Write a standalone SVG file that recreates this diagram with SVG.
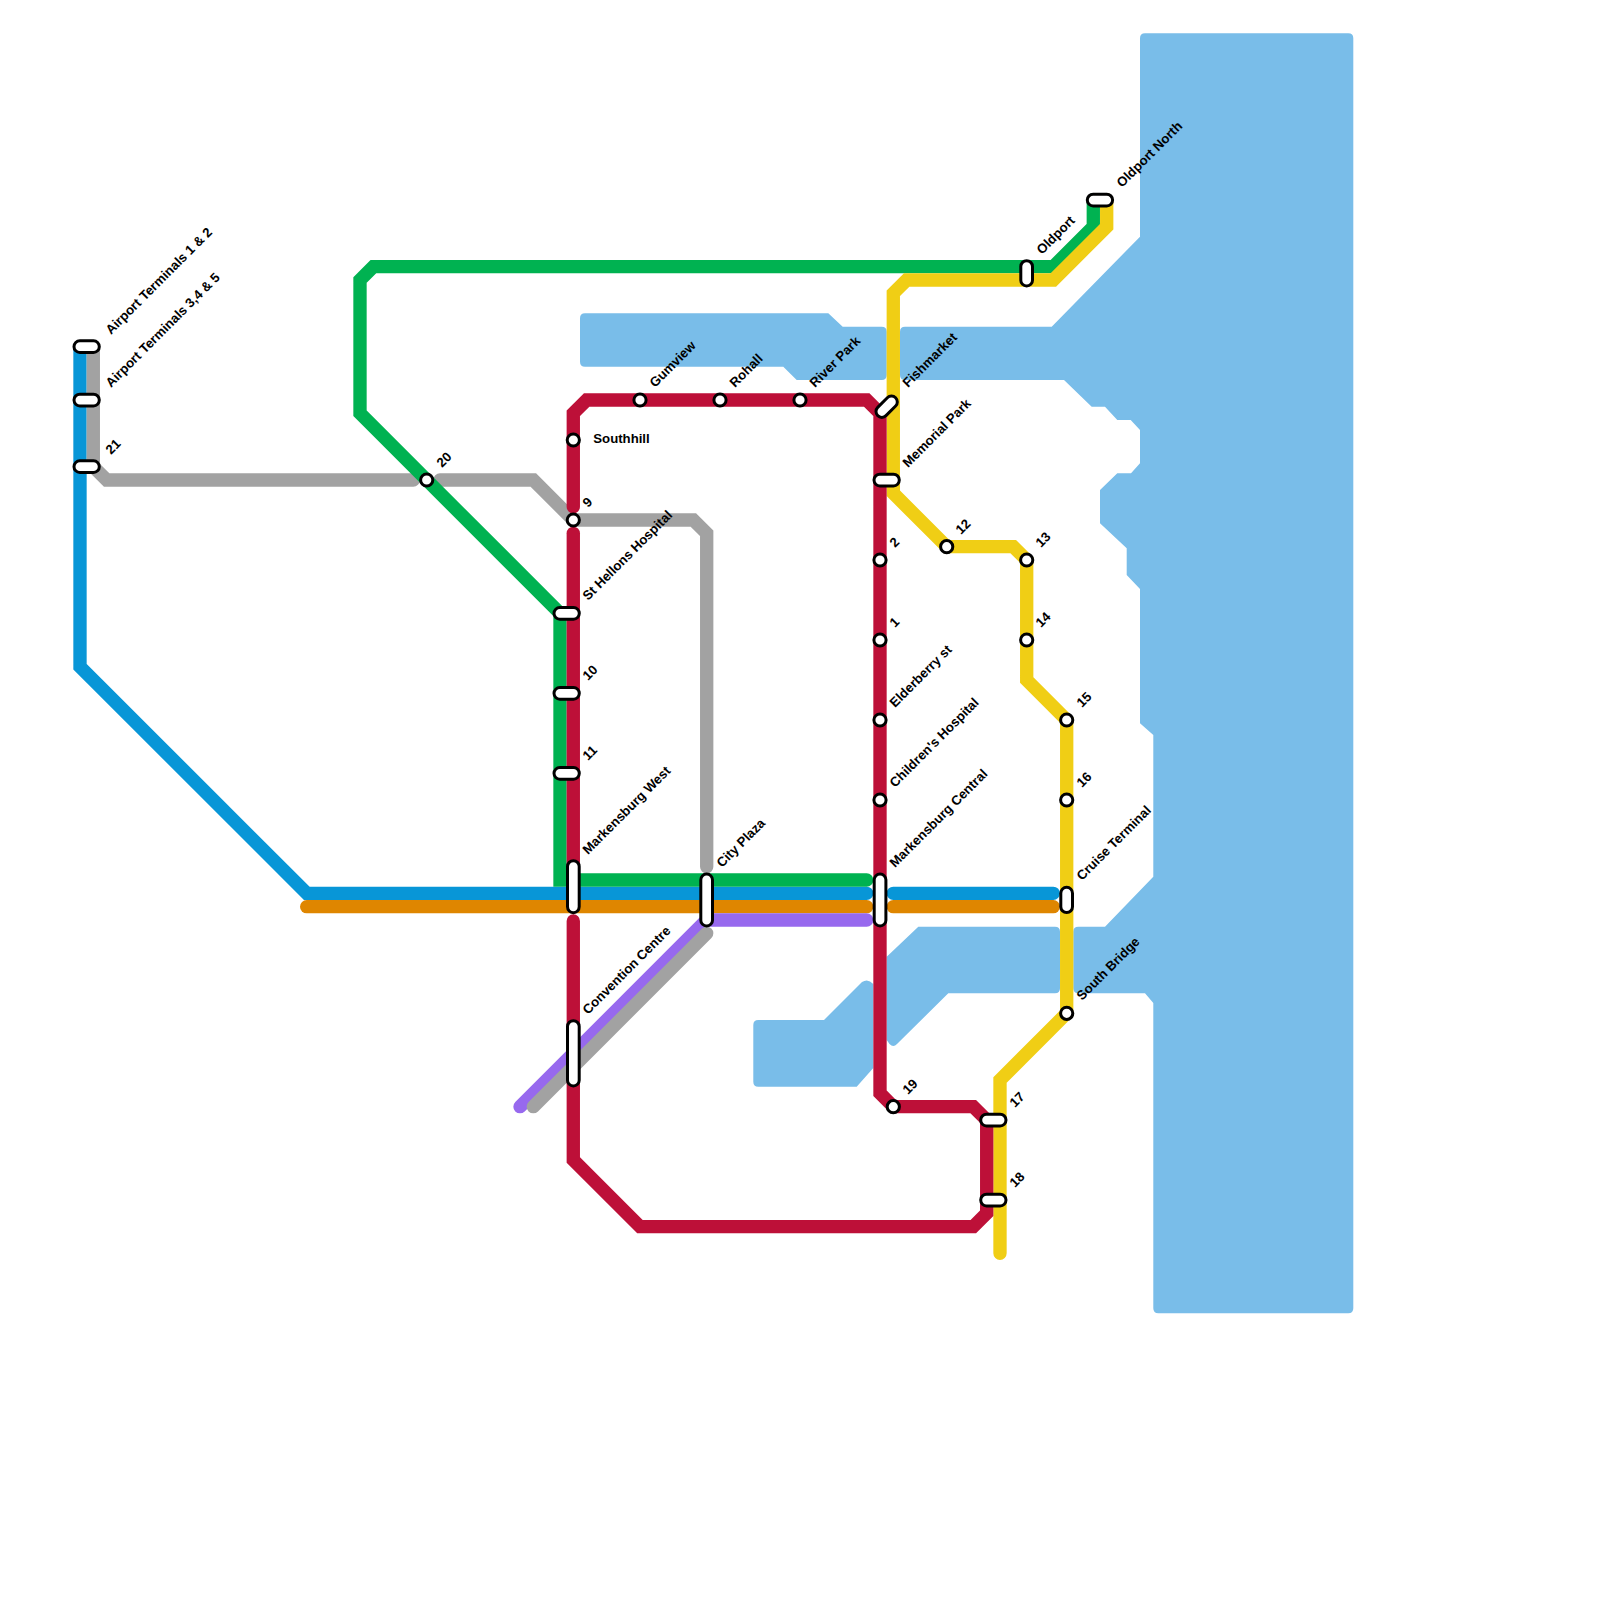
<svg xmlns="http://www.w3.org/2000/svg" width="1600" height="1600" viewBox="0 0 1600 1600">
<style>
.w{fill:#79bde9}
.l{fill:none;stroke-width:13.33;stroke-linecap:round;stroke-linejoin:miter}
.s{fill:#fff;stroke:#000;stroke-width:3}
text{font-family:"Liberation Sans",Arial,sans-serif;font-size:13.2px;font-weight:700;fill:#000}
</style>
<rect width="1600" height="1600" fill="#fff"/>
<g id="water">
<path class="w" d="M585 313.300H828.300L842.700 326.700H881.700Q886.700 326.700 886.700 331.700V375Q886.700 380 881.700 380H796.700L783.300 366.700H585Q580 366.700 580 361.700V318.300Q580 313.300 585 313.300Z"/>
<path class="w" d="M905 326.700H1051.700L1140 236.700V38.300Q1140 33.300 1145 33.300H1348.300Q1353.300 33.300 1353.300 38.300V1308.300Q1353.300 1313.300 1348.300 1313.300H1158.300Q1153.300 1313.300 1153.300 1308.300V1003L1145 993.300H1078.300Q1073.300 993.300 1073.300 988.300V931.700Q1073.300 926.700 1078.300 926.700H1105L1153.300 876.700V735L1140 723.300V589L1126.700 575V548.300L1100 523.300V490L1117.300 473.300H1131L1140 463.300V430L1130.700 420H1117.300L1105 406.700H1091.700L1064 380H905Q900 380 900 375V331.700Q900 326.700 905 326.700Z"/>
<path class="w" d="M758.300 1020H824L862 982Q868 978 873.300 984V1068L856.700 1086.700H758.300Q753.300 1086.700 753.300 1081.700V1025Q753.300 1020 758.300 1020Z"/>
<path class="w" d="M886.700 956.700L918.300 926.700H1055Q1060 926.700 1060 931.700V988.300Q1060 993.300 1055 993.300H948.300L897 1044Q893.300 1048 889.500 1044L886.700 1040Z"/>
</g>
<g id="connectors">
<path class="l" stroke="#0896d7" d="M80 346.700V666.700L306.700 893.300H866.700"/>
<path class="l" stroke="#0896d7" d="M893.300 893.300H1053.300"/>
<path class="l" stroke="#df8600" d="M306.700 906.700H866.700"/>
<path class="l" stroke="#df8600" d="M893.300 906.700H1053.300"/>
<path class="l" stroke="#a2a2a2" d="M93.300 346.700V466.700L106.700 480H413.300"/>
<path class="l" stroke="#a2a2a2" d="M440 480H533.300L573.300 520H693.300L706.700 533.300V866.700"/>
<path class="l" stroke="#00b251" d="M1093.300 200V226.700L1053.300 266.700H373.300L360 280V413.300L560 613.300V880H866.700"/>
<path class="l" stroke="#f0ce15" d="M1106.700 200V226.700L1053.300 280H906.700L893.300 293.300V493.300L946.700 546.700H1013.300L1026.700 560V680L1066.700 720V1013.300L1000 1080V1253.300"/>
<path class="l" stroke="#9769ee" d="M866.700 920H706.700L520 1106.700"/>
<path class="l" stroke="#a2a2a2" d="M706.700 933.300L533.300 1106.700"/>
<path class="l" stroke="#bd1038" d="M573.300 506.700V413.300L586.700 400H866.700L880 413.300V1093.300L893.300 1106.700H973.300L986.700 1120V1213.300L973.300 1226.700H640L573.300 1160V921"/>
<path class="l" stroke="#bd1038" d="M573.300 533.300V886.700"/>
</g>
<g id="n1"><rect class="s" x="74" y="340.800" width="25.300" height="11.700" rx="5.850"/><text transform="translate(111 335) rotate(-45)">Airport Terminals 1 &amp; 2</text></g>
<g id="n2"><rect class="s" x="74" y="394.200" width="25.300" height="11.700" rx="5.850"/><text transform="translate(111 388) rotate(-45)">Airport Terminals 3,4 &amp; 5</text></g>
<g id="n21"><rect class="s" x="74" y="460.800" width="25.300" height="11.700" rx="5.850"/><text transform="translate(111 455) rotate(-45)">21</text></g>
<g id="n20"><circle class="s" cx="426.700" cy="480" r="6.100"/><text transform="translate(442 468) rotate(-45)">20</text></g>
<g id="n9"><circle class="s" cx="573.300" cy="520" r="6.100"/><text transform="translate(588 508) rotate(-45)">9</text></g>
<g id="southhill"><circle class="s" cx="573.300" cy="440" r="6.100"/><text x="593.300" y="443">Southhill</text></g>
<g id="gumview"><circle class="s" cx="640" cy="400" r="6.100"/><text transform="translate(655 388) rotate(-45)">Gumview</text></g>
<g id="rohall"><circle class="s" cx="720" cy="400" r="6.100"/><text transform="translate(735 388) rotate(-45)">Rohall</text></g>
<g id="riverpark"><circle class="s" cx="800" cy="400" r="6.100"/><text transform="translate(815 388) rotate(-45)">River Park</text></g>
<g id="fishmarket"><rect class="s" x="-12.700" y="-5.850" width="25.300" height="11.700" rx="5.850" transform="translate(886.700 406.700) rotate(-45)"/><text transform="translate(908 388) rotate(-45)">Fishmarket</text></g>
<g id="memorial"><rect class="s" x="874" y="474.200" width="25.300" height="11.700" rx="5.850"/><text transform="translate(908 468) rotate(-45)">Memorial Park</text></g>
<g id="st2"><circle class="s" cx="880" cy="560" r="6.100"/><text transform="translate(895 548) rotate(-45)">2</text></g>
<g id="st1"><circle class="s" cx="880" cy="640" r="6.100"/><text transform="translate(895 628) rotate(-45)">1</text></g>
<g id="elder"><circle class="s" cx="880" cy="720" r="6.100"/><text transform="translate(895 708) rotate(-45)">Elderberry st</text></g>
<g id="children"><circle class="s" cx="880" cy="800" r="6.100"/><text transform="translate(895 788) rotate(-45)">Children's Hospital</text></g>
<g id="central"><rect class="s" x="874.200" y="874" width="11.700" height="52" rx="5.850"/><text transform="translate(895 868) rotate(-45)">Markensburg Central</text></g>
<g id="sthellons"><rect class="s" x="554" y="607.500" width="25.300" height="11.700" rx="5.850"/><text transform="translate(588 601) rotate(-45)">St Hellons Hospital</text></g>
<g id="st10"><rect class="s" x="554" y="687.500" width="25.300" height="11.700" rx="5.850"/><text transform="translate(588 681) rotate(-45)">10</text></g>
<g id="st11"><rect class="s" x="554" y="767.500" width="25.300" height="11.700" rx="5.850"/><text transform="translate(588 761) rotate(-45)">11</text></g>
<g id="mwest"><rect class="s" x="567.500" y="860.700" width="11.700" height="52" rx="5.850"/><text transform="translate(588 855) rotate(-45)">Markensburg West</text></g>
<g id="city"><rect class="s" x="700.800" y="874" width="11.700" height="52" rx="5.850"/><text transform="translate(722 868) rotate(-45)">City Plaza</text></g>
<g id="conv"><rect class="s" x="567.500" y="1020.700" width="11.700" height="65.300" rx="5.850"/><text transform="translate(588 1015) rotate(-45)">Convention Centre</text></g>
<g id="st19"><circle class="s" cx="893.300" cy="1106.700" r="6.100"/><text transform="translate(908 1095) rotate(-45)">19</text></g>
<g id="st17"><rect class="s" x="980.700" y="1114.200" width="25.300" height="11.700" rx="5.850"/><text transform="translate(1015 1108) rotate(-45)">17</text></g>
<g id="st18"><rect class="s" x="980.700" y="1194.200" width="25.300" height="11.700" rx="5.850"/><text transform="translate(1015 1188) rotate(-45)">18</text></g>
<g id="st12"><circle class="s" cx="946.700" cy="546.700" r="6.100"/><text transform="translate(961 535) rotate(-45)">12</text></g>
<g id="st13"><circle class="s" cx="1026.700" cy="560" r="6.100"/><text transform="translate(1041 548) rotate(-45)">13</text></g>
<g id="st14"><circle class="s" cx="1026.700" cy="640" r="6.100"/><text transform="translate(1041 628) rotate(-45)">14</text></g>
<g id="st15"><circle class="s" cx="1066.700" cy="720" r="6.100"/><text transform="translate(1082 708) rotate(-45)">15</text></g>
<g id="st16"><circle class="s" cx="1066.700" cy="800" r="6.100"/><text transform="translate(1082 788) rotate(-45)">16</text></g>
<g id="cruise"><rect class="s" x="1060.800" y="887.300" width="11.700" height="25.300" rx="5.850"/><text transform="translate(1082 881) rotate(-45)">Cruise Terminal</text></g>
<g id="south"><circle class="s" cx="1066.700" cy="1013.300" r="6.100"/><text transform="translate(1082 1001) rotate(-45)">South Bridge</text></g>
<g id="oldport"><rect class="s" x="1020.800" y="260.700" width="11.700" height="25.300" rx="5.850"/><text transform="translate(1042 255) rotate(-45)">Oldport</text></g>
<g id="oldportn"><rect class="s" x="1087.300" y="194.200" width="25.300" height="11.700" rx="5.850"/><text transform="translate(1122 188) rotate(-45)">Oldport North</text></g>
</svg>
